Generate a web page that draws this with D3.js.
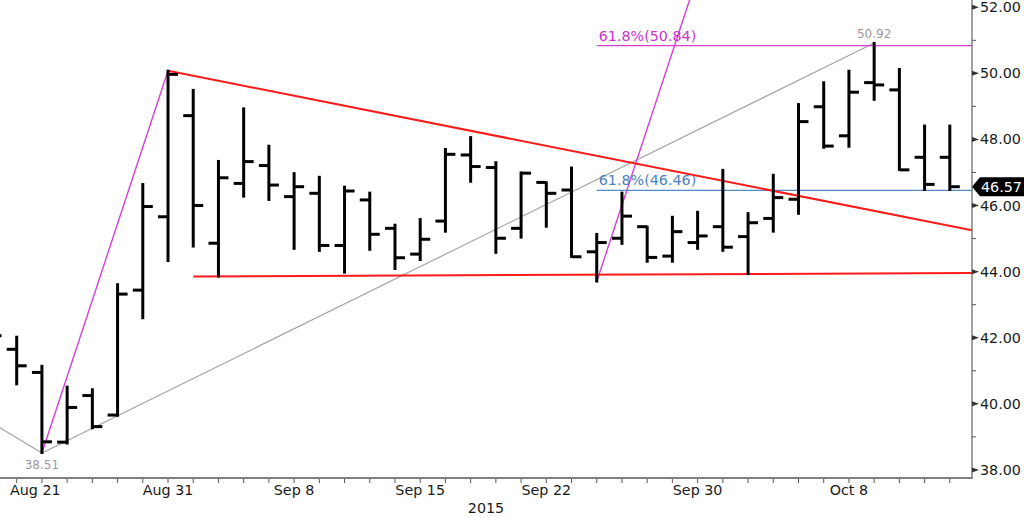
<!DOCTYPE html>
<html><head><meta charset="utf-8">
<script src="https://cdn.jsdelivr.net/npm/d3@7"></script>
<style>
html,body{margin:0;padding:0;background:#fff;}
text{font-family:"DejaVu Sans",sans-serif;}
</style></head>
<body><svg id="c" width="1024" height="517"></svg>
<script>
// ---- data ----
const dates = ["Aug 20","Aug 21","Aug 24","Aug 25","Aug 26","Aug 27","Aug 28","Aug 31","Sep 1","Sep 2","Sep 3","Sep 4","Sep 8","Sep 9","Sep 10","Sep 11","Sep 14","Sep 15","Sep 16","Sep 17","Sep 18","Sep 21","Sep 22","Sep 23","Sep 24","Sep 25","Sep 28","Sep 29","Sep 30","Oct 1","Oct 2","Oct 5","Oct 6","Oct 7","Oct 8","Oct 9","Oct 12","Oct 13","Oct 14"];
const open  = [42.40,41.65,40.95,38.84,40.25,39.66,43.44,45.66,48.72,44.86,46.67,47.21,46.27,46.37,44.79,46.17,45.31,44.53,45.53,47.53,47.15,45.31,46.70,46.47,44.60,45.01,45.36,44.47,44.88,45.36,45.06,45.61,46.19,48.99,48.11,49.72,49.50,47.46,47.46];
const high  = [42.60,42.03,41.15,40.52,40.44,43.62,46.65,50.08,49.50,47.35,48.94,47.81,46.98,46.87,46.57,46.39,45.42,45.59,47.71,48.07,47.31,47.00,46.70,47.15,45.14,46.39,45.36,45.66,45.81,47.08,45.77,46.93,49.07,49.73,50.08,50.92,50.13,48.42,48.42];
const low   = [41.60,40.59,38.51,38.80,39.26,39.64,42.59,44.32,44.76,43.85,46.27,46.17,44.69,44.63,43.97,44.66,44.08,44.35,45.21,46.72,44.57,45.03,45.36,44.45,43.70,44.84,44.30,44.30,44.69,44.63,43.93,45.21,45.75,47.75,47.78,49.20,47.08,46.47,46.47];
const close = [42.06,41.15,38.85,39.89,39.31,43.32,45.97,49.97,46.00,46.84,47.33,46.62,46.57,44.79,46.44,45.13,44.42,44.98,47.55,47.18,45.01,46.98,46.37,44.45,44.88,45.68,44.43,45.21,45.08,44.74,45.48,46.24,48.54,47.80,49.43,49.65,47.08,46.64,46.57];
const yTicks = [38,40,42,44,46,48,50,52];
const yMinor = [39,41,43,45,47,49,51];
const dateLabels = ["Aug 21","Aug 31","Sep 8","Sep 15","Sep 22","Sep 30","Oct 8"];
const yearLabel = "2015";
const lastPrice = 46.57;
// annotations: [dateIndex, value]
const grayLine = [[0,39.43],[2,38.51],[35,50.92]];
const magentaAB = [[2,38.51],[7,50.08]];
const magentaProj = [[24,43.70],[29,55.27]];
const redTrend = [[7,50.08],[38.88,45.25]];
const redSupport = [[8,43.85],[38.88,43.96]];
const fibLevels = [{label:"61.8%(50.84)",value:50.84,from:24,color:"#d63fd6",text:"#cc33cc"},
                   {label:"61.8%(46.46)",value:46.46,from:24,color:"#4f8bc9",text:"#4a80c0"}];
const pointLabels = [{label:"38.51",i:2,v:38.51,pos:"below"},{label:"50.92",i:35,v:50.92,pos:"above"}];

// ---- layout ----
const W=1024,H=517, plotR=972, plotB=478;
const svg=d3.select("#c");
const x=d3.scaleLinear().domain([0.338,38.88]).range([0,plotR]);
const y=d3.scaleLinear().domain([37.755,52.22]).range([plotB,0]);

svg.append("defs").append("clipPath").attr("id","clip").append("rect")
  .attr("x",0).attr("y",0).attr("width",plotR).attr("height",plotB);
const g=svg.append("g").attr("clip-path","url(#clip)");
const line=d3.line().x(d=>x(d[0])).y(d=>y(d[1]));

// gray swing line
g.append("path").attr("d",line(grayLine)).attr("fill","none").attr("stroke","#a6a6a6").attr("stroke-width",1.2);
// magenta lines
[magentaAB,magentaProj].forEach(p=>g.append("path").attr("d",line(p)).attr("fill","none").attr("stroke","#d63fd6").attr("stroke-width",1.4));
// fib horizontals
fibLevels.forEach(f=>{
  g.append("line").attr("x1",x(f.from)).attr("x2",plotR).attr("y1",y(f.value)).attr("y2",y(f.value))
   .attr("stroke",f.color).attr("stroke-width",1.4);
  g.append("text").attr("x",x(f.from)+2).attr("y",y(f.value)-5).attr("fill",f.text)
   .attr("font-size",14.3).text(f.label);
});
// red lines
[redTrend,redSupport].forEach(p=>g.append("path").attr("d",line(p)).attr("fill","none").attr("stroke","#ff1a1a").attr("stroke-width",2));

// OHLC bars
const bars=g.append("g").attr("stroke","#000").attr("stroke-width",3);
dates.forEach((d,i)=>{
  const cx=x(i);
  bars.append("line").attr("x1",cx).attr("x2",cx).attr("y1",y(high[i])-1).attr("y2",y(low[i])+1);
  bars.append("line").attr("x1",cx-10).attr("x2",cx).attr("y1",y(open[i])).attr("y2",y(open[i]));
  bars.append("line").attr("x1",cx).attr("x2",cx+10).attr("y1",y(close[i])).attr("y2",y(close[i]));
});

// point labels
pointLabels.forEach(p=>{
  svg.append("text").attr("x",x(p.i)).attr("y",p.pos==="below"?y(p.v)+16:y(p.v)-5)
    .attr("text-anchor","middle").attr("font-size",12).attr("fill","#9a9a9a").text(p.label);
});

// axes
svg.append("line").attr("x1",0).attr("x2",plotR).attr("y1",plotB).attr("y2",plotB).attr("stroke","#808080").attr("stroke-width",2);
svg.append("line").attr("x1",plotR).attr("x2",plotR).attr("y1",0).attr("y2",plotB+1).attr("stroke","#6e6e6e").attr("stroke-width",1.3);

// y ticks
yTicks.forEach(v=>{
  const yy=y(v);
  svg.append("path").attr("d",`M${plotR},${yy-2.5}L${plotR+7},${yy}L${plotR},${yy+2.5}Z`).attr("fill","#333");
  svg.append("text").attr("x",980).attr("y",yy+5).attr("font-size",14.3).attr("fill","#1a1a1a").text(d3.format(".2f")(v));
});
yMinor.forEach(v=>{
  svg.append("line").attr("x1",plotR).attr("x2",plotR+4).attr("y1",y(v)).attr("y2",y(v)).attr("stroke","#555").attr("stroke-width",1);
});

// x ticks
dates.forEach((d,i)=>{
  const xx=x(i); if(xx<0||xx>plotR) return;
  svg.append("line").attr("x1",xx).attr("x2",xx).attr("y1",plotB+1).attr("y2",plotB+5).attr("stroke","#555").attr("stroke-width",1);
});
dateLabels.forEach(lbl=>{
  const i=dates.indexOf(lbl);
  const t=svg.append("text").attr("y",plotB+17).attr("font-size",14.3).attr("fill","#1a1a1a").text(lbl);
  const w=t.node().getComputedTextLength();
  let left=x(i)-w/2; if(left<10) left=10;
  t.attr("x",left);
});
svg.append("text").attr("x",plotR/2).attr("y",plotB+35).attr("text-anchor","middle").attr("font-size",14.3).attr("fill","#1a1a1a").text(yearLabel);

// last price tag
const ly=y(lastPrice);
svg.append("path").attr("d",`M${plotR},${ly}L${plotR+8},${ly-9.5}L${W},${ly-9.5}L${W},${ly+9.5}L${plotR+8},${ly+9.5}Z`).attr("fill","#000");
svg.append("text").attr("x",981).attr("y",ly+5).attr("font-size",14.3).attr("fill","#fff").text(d3.format(".2f")(lastPrice));
</script></body></html>
